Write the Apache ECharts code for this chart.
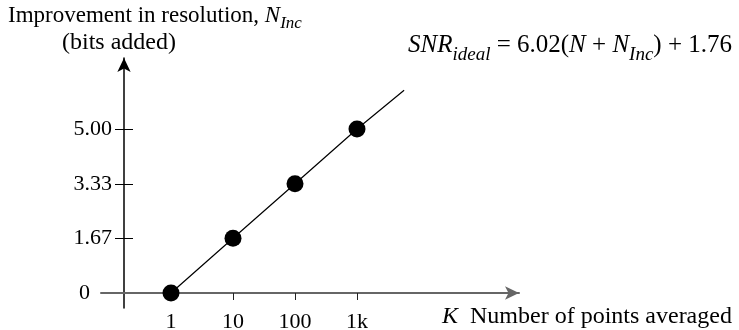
<!DOCTYPE html>
<html>
<head>
<meta charset="utf-8">
<script src="https://cdn.jsdelivr.net/npm/echarts@6/dist/echarts.min.js"></script>
<style>
  html, body { margin: 0; padding: 0; background: #fff; }
  #chart { width: 739px; height: 330px; }
</style>
</head>
<body>
<div id="chart"></div>
<script>
// x positions are log10(K), one step per decade
const kDecades = [0, 1, 2, 3];
const kLabels = ['1', '10', '100', '1k'];
const bitsAdded = [0, 1.67, 3.33, 5.00];
const yTickValues = [0, 1.67, 3.33, 5.00];
const yTickLabels = ['0', '1.67', '3.33', '5.00'];
// the straight line runs on a little past the 1k point
const lineEnd = [3.76, 6.18];

const SERIF = 'Liberation Serif';

const points = kDecades.map((k, i) => [k, bitsAdded[i]]);
const linePoints = points.concat([lineEnd]);

// rich text pieces: plain, italic, italic subscript
function textStyles(size) {
  const sub = Math.round(size * 0.75);
  return {
    t: { fontFamily: SERIF, fontSize: size, lineHeight: size + 4, verticalAlign: 'top', color: '#000' },
    i: { fontFamily: SERIF, fontSize: size, fontStyle: 'italic', lineHeight: size + 4, verticalAlign: 'top', color: '#000' },
    s: { fontFamily: SERIF, fontSize: sub, fontStyle: 'italic', lineHeight: sub + 2, verticalAlign: 'top', padding: [Math.round(size * 0.46), 0, 0, 0], color: '#000' }
  };
}

function label(text, left, top, size) {
  return {
    text: text,
    left: left,
    top: top,
    padding: 0,
    textStyle: { fontFamily: SERIF, fontSize: size, fontWeight: 'normal', color: '#000', rich: textStyles(size) }
  };
}

const xRange = { min: -1.129, max: 5.613 };
const yRange = { min: -0.457, max: 7.165 };

const chart = echarts.init(document.getElementById('chart'));

chart.setOption({
  animation: false,
  backgroundColor: '#fff',
  title: [
    label('{t|Improvement in resolution, }{i|N}{s|Inc}', 8, 4, 23),
    label('{t|(bits added)}', 62, 31, 24),
    label('{i|SNR}{s|ideal}{t| = 6.02(}{i|N}{t| + }{i|N}{s|Inc}{t|) + 1.76}', 408, 33, 25),
    label('{i|K}{t|  Number of points averaged}', 442, 305, 24)
  ],
  grid: { left: 101, right: 220, top: 58, bottom: 22, containLabel: false, outerBoundsMode: 'none' },
  xAxis: [
    {
      type: 'value',
      min: xRange.min,
      max: xRange.max,
      axisLine: {
        onZero: true,
        onZeroAxisIndex: 0,
        symbol: ['none', 'arrow'],
        symbolSize: [10, 14],
        lineStyle: { color: '#666', width: 2 }
      },
      axisTick: { show: true, length: 7, customValues: kDecades, lineStyle: { color: '#222', width: 1 } },
      axisLabel: {
        customValues: kDecades,
        margin: 3,
        color: '#000',
        fontFamily: SERIF,
        fontSize: 22,
        formatter: (v) => kLabels[kDecades.indexOf(v)]
      },
      splitLine: { show: false }
    },
    {
      type: 'value',
      min: xRange.min,
      max: xRange.max,
      axisLine: { show: false, onZero: true, onZeroAxisIndex: 1 },
      axisTick: { show: true, inside: true, length: 7, customValues: kDecades, lineStyle: { color: '#222', width: 1 } },
      axisLabel: { show: false },
      splitLine: { show: false }
    }
  ],
  yAxis: [
    {
      type: 'value',
      position: 'left',
      offset: -23,
      min: yRange.min,
      max: yRange.max,
      axisLine: {
        show: true,
        onZero: false,
        symbol: ['none', 'arrow'],
        symbolSize: [10, 14],
        lineStyle: { color: '#000', width: 1.5 }
      },
      axisTick: { show: true, length: 9, customValues: yTickValues.slice(1), lineStyle: { color: '#000', width: 1 } },
      axisLabel: {
        customValues: yTickValues,
        margin: 12,
        color: '#000',
        fontFamily: SERIF,
        fontSize: 22,
        formatter: (v) => {
          const i = yTickValues.indexOf(v);
          return i === 0 ? '{z|' + yTickLabels[i] + '}' : yTickLabels[i];
        },
        rich: { z: { fontFamily: SERIF, fontSize: 22, color: '#000', padding: [0, 22, 0, 0] } }
      },
      splitLine: { show: false }
    },
    {
      type: 'value',
      position: 'left',
      offset: -23,
      min: yRange.min,
      max: yRange.max,
      axisLine: { show: false, onZero: false },
      axisTick: { show: true, inside: true, length: 9, customValues: yTickValues.slice(1), lineStyle: { color: '#000', width: 1 } },
      axisLabel: { show: false },
      splitLine: { show: false }
    }
  ],
  series: [
    {
      type: 'line',
      data: linePoints,
      showSymbol: false,
      symbol: 'none',
      lineStyle: { color: '#000', width: 1.2 },
      z: 2
    },
    {
      type: 'scatter',
      data: points,
      symbolSize: 17,
      itemStyle: { color: '#000', opacity: 1 },
      z: 3
    }
  ]
});
</script>
</body>
</html>
